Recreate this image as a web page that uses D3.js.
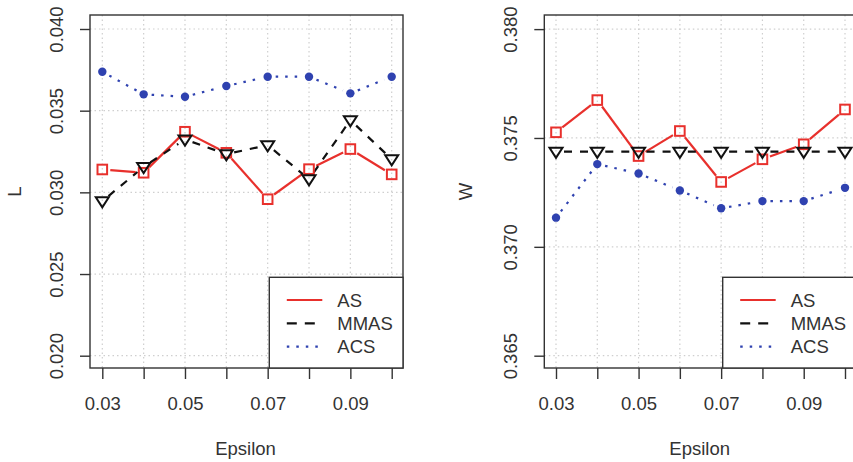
<!DOCTYPE html>
<html>
<head>
<meta charset="utf-8">
<script src="https://cdn.jsdelivr.net/npm/d3@7"></script>
<style>
  body { margin: 0; background: #fff; }
  text { font-family: "Liberation Sans", Arial, sans-serif; fill: #333; }
</style>
</head>
<body>
<svg width="853" height="462"></svg>
<script>
// data
var epsilon = [0.03, 0.04, 0.05, 0.06, 0.07, 0.08, 0.09, 0.10];
var xTicks = [0.03, 0.05, 0.07, 0.09];

var L_AS   = [0.03140, 0.03120, 0.03371, 0.03242, 0.02958, 0.03142, 0.03265, 0.03110];
var L_MMAS = [0.02946, 0.03156, 0.03324, 0.03234, 0.03289, 0.03081, 0.03442, 0.03203];
var L_ACS  = [0.03738, 0.03600, 0.03585, 0.03651, 0.03708, 0.03708, 0.03606, 0.03708];
var L_ticks = [0.020, 0.025, 0.030, 0.035, 0.040];

var W_AS   = [0.37526, 0.37674, 0.37417, 0.37532, 0.37298, 0.37402, 0.37471, 0.37631];
var W_MMAS = [0.37437, 0.37437, 0.37437, 0.37437, 0.37437, 0.37437, 0.37437, 0.37437];
var W_ACS  = [0.37134, 0.37380, 0.37337, 0.37259, 0.37177, 0.37210, 0.37210, 0.37271];
var W_ticks = [0.365, 0.370, 0.375, 0.380];

var seriesNames = ["AS", "MMAS", "ACS"];
var red = "#e8302c", blue = "#2f42b0", black = "#111";

var svg = d3.select("svg");

// gap around points like R's type="b"
function gapLines(g, pts, gap, color, dash) {
    for (var i = 0; i < pts.length - 1; i++) {
        var a = pts[i], b = pts[i + 1];
        var dx = b[0] - a[0], dy = b[1] - a[1];
        var len = Math.sqrt(dx * dx + dy * dy);
        if (len <= 2 * gap) continue;
        var ux = dx / len, uy = dy / len;
        g.append("line")
            .attr("x1", a[0] + ux * gap).attr("y1", a[1] + uy * gap)
            .attr("x2", b[0] - ux * gap).attr("y2", b[1] - uy * gap)
            .attr("stroke", color)
            .attr("stroke-width", 2.2)
            .attr("stroke-dasharray", dash)
            .attr("stroke-linecap", dash === "2.5 7" ? "butt" : "butt");
    }
}

function drawPanel(p) {
    var g = svg.append("g");
    var x = d3.scaleLinear().domain([0.03, 0.10]).range(p.xr);
    var y = d3.scaleLinear().domain(p.ydom).range([355.7, 29]);

    // grid
    g.selectAll(".vg").data(epsilon).enter().append("line")
        .attr("x1", d => x(d)).attr("x2", d => x(d))
        .attr("y1", p.box[1]).attr("y2", p.box[3])
        .attr("stroke", "#cfcfcf").attr("stroke-width", 1.2)
        .attr("stroke-dasharray", "1.5 3");
    g.selectAll(".hg").data(p.yticks).enter().append("line")
        .attr("x1", p.box[0]).attr("x2", p.box[2])
        .attr("y1", d => y(d)).attr("y2", d => y(d))
        .attr("stroke", "#cfcfcf").attr("stroke-width", 1.2)
        .attr("stroke-dasharray", "1.5 3");

    // series
    var series = [
        {v: p.as, color: red, dash: null},
        {v: p.mmas, color: black, dash: "8 8"},
        {v: p.acs, color: blue, dash: "2.5 7"}
    ];
    series.forEach(function(s) {
        var pts = epsilon.map((e, i) => [x(e), y(s.v[i])]);
        gapLines(g, pts, 8, s.color, s.dash);
    });
    // markers
    g.selectAll(".sq").data(p.as).enter().append("rect")
        .attr("x", (d, i) => x(epsilon[i]) - 4.8)
        .attr("y", d => y(d) - 4.8)
        .attr("width", 9.6).attr("height", 9.6)
        .attr("fill", "none").attr("stroke", red).attr("stroke-width", 2);
    g.selectAll(".tri").data(p.mmas).enter().append("path")
        .attr("d", function(d, i) {
            var cx = x(epsilon[i]), cy = y(d), r = 6.5;
            return "M" + (cx - r) + "," + (cy - r * 0.6) + "L" + (cx + r) + "," + (cy - r * 0.6) +
                "L" + cx + "," + (cy + r * 0.95) + "Z";
        })
        .attr("fill", "none").attr("stroke", black).attr("stroke-width", 2);
    g.selectAll(".dot").data(p.acs).enter().append("circle")
        .attr("cx", (d, i) => x(epsilon[i]))
        .attr("cy", d => y(d))
        .attr("r", 4.2).attr("fill", blue);

    // box
    g.append("rect")
        .attr("x", p.box[0]).attr("y", p.box[1])
        .attr("width", p.box[2] - p.box[0]).attr("height", p.box[3] - p.box[1])
        .attr("fill", "none").attr("stroke", "#333").attr("stroke-width", 1.4);

    // axes
    var xa = g.append("g").attr("transform", "translate(0," + p.box[3] + ")")
        .call(d3.axisBottom(x).tickValues(epsilon).tickSize(11).tickFormat(d => xTicks.some(t => Math.abs(t - d) < 1e-9) ? d3.format(".2f")(d) : ""));
    xa.select(".domain").remove();
    xa.selectAll("line").attr("stroke", "#333").attr("stroke-width", 1.4);
    xa.selectAll("text").attr("dy", null).attr("y", 42).style("font-size", "18.5px")
        .style("font-family", "'Liberation Sans', Arial, sans-serif").attr("fill", "#333");

    var ya = g.append("g").attr("transform", "translate(" + p.box[0] + ",0)")
        .call(d3.axisLeft(y).tickValues(p.yticks).tickSize(10).tickFormat(d3.format(".3f")));
    ya.select(".domain").remove();
    ya.selectAll("line").attr("stroke", "#333").attr("stroke-width", 1.4);
    ya.selectAll("text")
        .attr("x", null).attr("dy", null)
        .attr("transform", "translate(" + (-27) + ",0) rotate(-90)")
        .attr("text-anchor", "middle")
        .style("font-size", "18.5px")
        .style("font-family", "'Liberation Sans', Arial, sans-serif")
        .attr("fill", "#333");

    // axis titles
    g.append("text").attr("x", (p.box[0] + p.box[2]) / 2 - 1).attr("y", 455)
        .attr("text-anchor", "middle").style("font-size", "18.5px").text("Epsilon");
    g.append("text")
        .attr("transform", "translate(" + p.ylabX + "," + ((p.box[1] + p.box[3]) / 2) + ") rotate(-90)")
        .attr("text-anchor", "middle").style("font-size", "18.5px").text(p.ylab);

    // legend
    var lx = p.legX, ly = 277.3;
    g.append("rect").attr("x", lx).attr("y", ly)
        .attr("width", p.box[2] - lx).attr("height", p.box[3] - ly)
        .attr("fill", "#fff").attr("stroke", "#333").attr("stroke-width", 1.4);
    var legStyles = [[red, null], [black, "10 8"], [blue, "2.5 7"]];
    seriesNames.forEach(function(n, i) {
        var yy = 300 + i * 23.3;
        g.append("line").attr("x1", lx + 17.5).attr("x2", lx + 53)
            .attr("y1", yy).attr("y2", yy)
            .attr("stroke", legStyles[i][0]).attr("stroke-width", 2.2)
            .attr("stroke-dasharray", legStyles[i][1]);
        g.append("text").attr("x", lx + 68).attr("y", yy + 6.5)
            .style("font-size", "18.5px").text(n);
    });
}

drawPanel({
    xr: [102.3, 391.7], box: [90, 15, 403, 368], ydom: [0.020, 0.040],
    yticks: L_ticks, as: L_AS, mmas: L_MMAS, acs: L_ACS,
    ylab: "L", ylabX: 21, legX: 269.3
});
// right panel (y domain set so ticks line up with the left one)
drawPanel({
    xr: [556, 845], box: [544.3, 15, 857, 368], ydom: [0.365, 0.380 + 0.000005],
    yticks: W_ticks, as: W_AS, mmas: W_MMAS, acs: W_ACS,
    ylab: "W", ylabX: 472, legX: 722.7
});
</script>
</body>
</html>
